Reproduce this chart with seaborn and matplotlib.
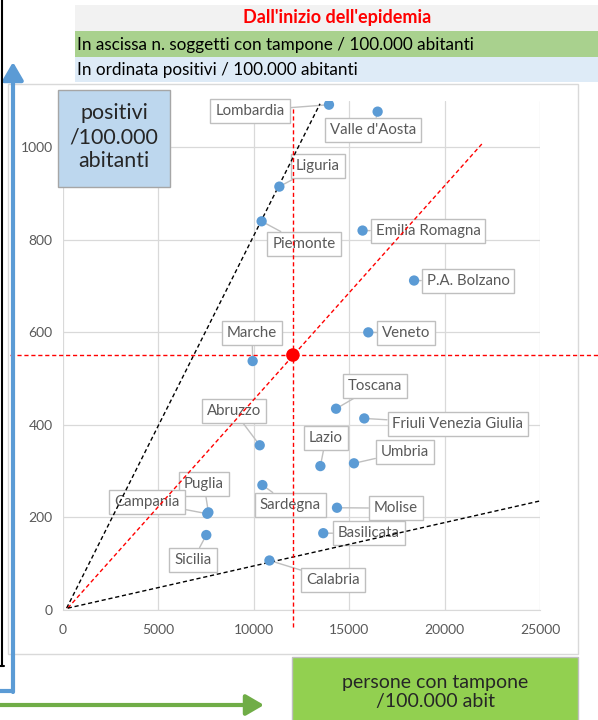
import numpy as np
import pandas as pd
import matplotlib
matplotlib.use("Agg")
import matplotlib.pyplot as plt
import seaborn as sns
from matplotlib.patches import Rectangle, FancyArrowPatch
from matplotlib.lines import Line2D

# regioni: tamponi / 100.000 ab (x), positivi / 100.000 ab (y)
regioni = ["Lombardia", "Valle d'Aosta", "Liguria", "Piemonte", "Emilia Romagna",
           "P.A. Bolzano", "Veneto", "Marche", "Toscana", "Friuli Venezia Giulia",
           "Abruzzo", "Lazio", "Umbria", "Sardegna", "Molise", "Puglia", "Campania",
           "Basilicata", "Sicilia", "Calabria"]
tamponi = [13940, 16490, 11340, 10410, 15700, 18400, 16000, 9940, 14310, 15790,
           10310, 13490, 15250, 10450, 14360, 7620, 7560, 13640, 7510, 10820]
positivi = [1092, 1077, 915, 840, 820, 712, 600, 538, 435, 414,
            356, 311, 317, 270, 221, 211, 208, 166, 162, 107]
# posizione delle etichette (centro del riquadro)
etich_x = [9800, 16250, 13370, 12630, 19130, 21230, 17980, 9910, 16350, 20700,
           8960, 13780, 17920, 11900, 17450, 7390, 4400, 16040, 6810, 14150]
etich_y = [1079, 1038, 960, 791, 819, 711, 599, 599, 484, 402,
           430, 372, 342, 227, 220, 272, 233, 166, 108, 65]

# media Italia
italia_x = [12050]
italia_y = [551]

# rette dall'origine (estremi)
retta_alta_x, retta_alta_y = [190, 13470], [4, 1094]
retta_media_x, retta_media_y = [250, 21950], [4, 1007]
retta_bassa_x, retta_bassa_y = [250, 25350], [4, 239]

df = pd.DataFrame({"regione": regioni, "tamponi": tamponi, "positivi": positivi})

sns.set_style("white")
plt.rcParams["font.family"] = ["Lato", "DejaVu Sans"]

fig = plt.figure(figsize=(5.98, 7.2), dpi=100)
W, H = 598, 720


def fx(px):
    return px / W


def fy(py):
    return 1 - py / H


def rect(x0, y0, x1, y1, fc, ec="none", lw=1.0, z=0):
    fig.add_artist(Rectangle((fx(x0), fy(y1)), (x1 - x0) / W, (y1 - y0) / H,
                             transform=fig.transFigure, fc=fc, ec=ec, lw=lw, zorder=z))


# chart area border
rect(8, 84, 578, 654, "none", ec="#d9d9d9", lw=1)

ax = fig.add_axes([fx(63), fy(610), 477 / W, 509 / H])
ax.set_facecolor("none")

grey = "#595959"
ax.set_xlim(0, 25000)
ax.set_ylim(0, 1100)
ax.set_xticks(np.arange(0, 25001, 5000))
ax.set_yticks(np.arange(0, 1001, 200))
ax.grid(True, color="#d9d9d9", lw=0.9)
ax.set_axisbelow(True)
for s in ["top", "right", "left"]:
    ax.spines[s].set_visible(False)
ax.spines["bottom"].set_color("#d9d9d9")
ax.tick_params(axis="both", colors="#d9d9d9", labelcolor=grey, labelsize=10,
               length=4, width=0.9)
ax.tick_params(axis="x", pad=6)

# rette tratteggiate
dash = (0, (3, 2))
sns.lineplot(x=retta_alta_x, y=retta_alta_y, ax=ax, color="black", lw=1, linestyle=dash, zorder=4)
sns.lineplot(x=retta_media_x, y=retta_media_y, ax=ax, color="red", lw=1, linestyle=dash, zorder=4)
sns.lineplot(x=retta_bassa_x, y=retta_bassa_y, ax=ax, color="black", lw=1, linestyle=dash, zorder=4)

# linee della media (escono dall'area del grafico)
ax.add_line(Line2D([italia_x[0], italia_x[0]], [-37, 1085], color="red", lw=1,
                   linestyle=dash, zorder=4, clip_on=False))
ax.add_line(Line2D([-2780, 28040], [italia_y[0], italia_y[0]], color="red", lw=1,
                   linestyle=dash, zorder=4, clip_on=False))

# etichette
for r, x, y, lx, ly in zip(regioni, tamponi, positivi, etich_x, etich_y):
    ax.annotate(r, xy=(x, y), xytext=(lx, ly), textcoords="data",
                ha="center", va="center", fontsize=10.8, color=grey, zorder=3,
                bbox=dict(boxstyle="square,pad=0.33", fc="white", ec="#bfbfbf", lw=1),
                arrowprops=dict(arrowstyle="-", color="#bfbfbf", lw=1, shrinkA=0, shrinkB=3))

sns.scatterplot(data=df, x="tamponi", y="positivi", ax=ax, color="#5b9bd5",
                s=55, edgecolor="none", zorder=5, legend=False)
sns.scatterplot(x=italia_x, y=italia_y, ax=ax, color="red", s=95,
                edgecolor="none", zorder=6, legend=False)
ax.set_xlabel("")
ax.set_ylabel("")

# intestazioni
rect(75, 5, 598, 31, "#f2f2f2")
rect(75, 31, 598, 57, "#a9d18e")
rect(75, 57, 598, 82, "#deebf7")
fig.text(fx(337), fy(18), "Dall'inizio dell'epidemia", color="red", fontweight="bold",
         fontsize=13, ha="center", va="center")
fig.text(fx(77), fy(45), "In ascissa n. soggetti con tampone / 100.000 abitanti",
         fontsize=12.3, ha="left", va="center", color="black")
fig.text(fx(77), fy(70), "In ordinata positivi / 100.000 abitanti",
         fontsize=12.3, ha="left", va="center", color="black")

# linea nera a sinistra
fig.add_artist(Line2D([fx(1.5), fx(1.5)], [fy(0), fy(666)], transform=fig.transFigure,
                      color="black", lw=1.5))
fig.add_artist(Line2D([fx(0), fx(4)], [fy(666), fy(666)], transform=fig.transFigure,
                      color="black", lw=1.5))

# frecce
blu = "#5b9bd5"
fig.add_artist(Line2D([fx(0), fx(13)], [fy(691), fy(691)], transform=fig.transFigure,
                      color=blu, lw=3))
fig.add_artist(FancyArrowPatch((fx(13), fy(692)), (fx(13), fy(62)), transform=fig.transFigure,
                               arrowstyle="-|>,head_length=0.6,head_width=0.35",
                               mutation_scale=18, color=blu, lw=3, shrinkA=0, shrinkB=0))
verde = "#70ad47"
fig.add_artist(FancyArrowPatch((fx(0), fy(705)), (fx(264), fy(705)), transform=fig.transFigure,
                               arrowstyle="-|>,head_length=0.6,head_width=0.35",
                               mutation_scale=18, color=verde, lw=3, shrinkA=0, shrinkB=0))

# titoli assi
rect(58, 90, 170, 187, "#bdd7ee", ec="#a6a6a6", lw=1, z=5)
fig.text(fx(114), fy(137), "positivi\n/100.000\nabitanti", fontsize=15.4, ha="center",
         va="center", linespacing=1.25, zorder=6)
rect(292, 657, 578, 722, "#92d050", ec="#bfbfbf", lw=1, z=5)
fig.text(fx(435), fy(692), "persone con tampone\n/100.000 abit", fontsize=14,
         ha="center", va="center", linespacing=1.15, zorder=6)

fig.savefig("out.png", dpi=100)
